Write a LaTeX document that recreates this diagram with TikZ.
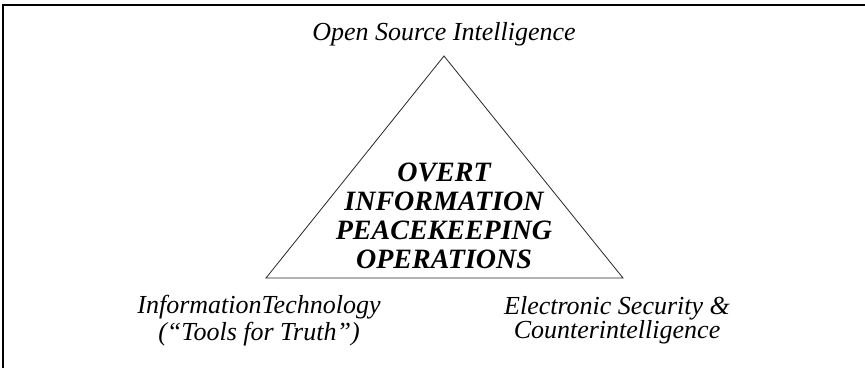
\documentclass[tikz,border=0pt]{standalone}
\usepackage{fontspec}
\setmainfont{Liberation Serif}
\begin{document}
\begin{tikzpicture}[x=1pt,y=-1pt,
  lbl/.style={inner sep=0pt, anchor=base, align=center,
    font=\itshape\fontsize{26}{27}\selectfont},
  core/.style={inner sep=0pt, anchor=base, align=center,
    font=\bfseries\itshape\fontsize{28}{29}\selectfont},
  edge/.style={draw=black!85, line width=0.8pt, line join=miter}]
\useasboundingbox (0,0) rectangle (865,368);
\draw[line width=1.5pt] (3,368) -- (3,5) -- (865,5);
\coordinate (apex) at (444,56);
\coordinate (bl) at (266,278);
\coordinate (br) at (623,278);
\draw[edge] (apex) -- (br) -- (bl) -- cycle;
\node[lbl] (osint) at (444,40) {Open Source Intelligence};
\node[lbl] (it) at (259,340) {InformationTechnology\\(“Tools for Truth”)};
\node[lbl, font=\itshape\fontsize{26}{24}\selectfont] (esc) at (617,338) {Electronic Security \&\\Counterintelligence};
\node[core] (center) at (444,268) {OVERT\\INFORMATION\\PEACEKEEPING\\OPERATIONS};
\end{tikzpicture}
\end{document}
